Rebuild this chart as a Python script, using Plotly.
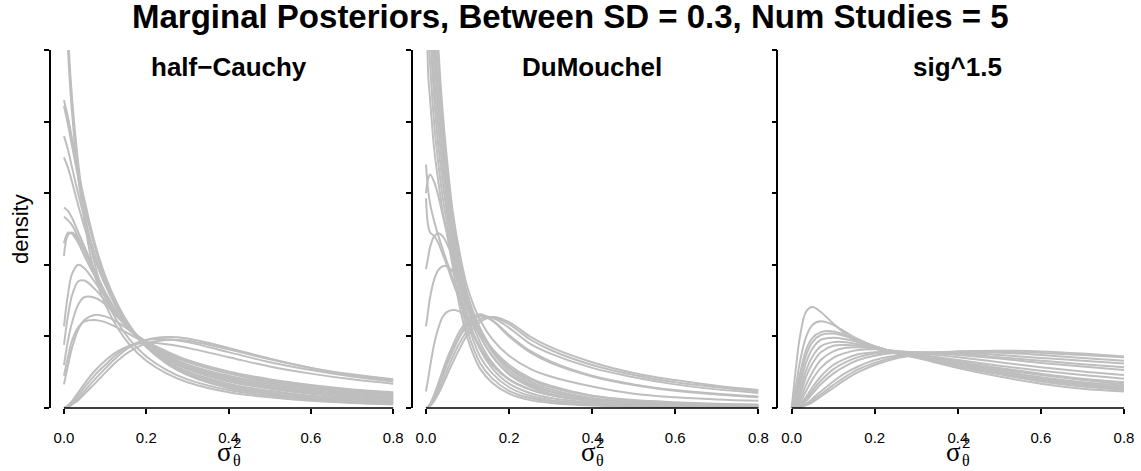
import plotly.graph_objects as go

W, H = 1141, 471
CURVE_COLOR = "#bebebe"
AXIS_COLOR = "#000000"
SANS = "Liberation Sans, Arial, Helvetica, sans-serif"

TITLE = "Marginal Posteriors, Between SD = 0.3, Num Studies = 5"
PANEL_TITLES = ["half\u2212Cauchy", "DuMouchel", "sig^1.5"]
X_TICKS = [0.0, 0.2, 0.4, 0.6, 0.8]
Y_TICKS = [0, 1, 2, 3, 4, 5]

# posterior density curves for the half-Cauchy prior
X_HALF_CAUCHY = [0, 0.01, 0.02, 0.035, 0.05, 0.075, 0.1, 0.13, 0.16, 0.2, 0.25, 0.3, 0.4, 0.5, 0.6, 0.7, 0.8]
HALF_CAUCHY = [
    [8.0, 5.0, 4.1, 3.2, 2.6, 1.85, 1.45, 1.12, 0.88, 0.66, 0.48, 0.36, 0.22, 0.15, 0.10, 0.07, 0.05],
    [7.0, 5.2, 4.3, 3.4, 2.75, 2.0, 1.55, 1.2, 0.95, 0.72, 0.53, 0.40, 0.25, 0.17, 0.12, 0.09, 0.07],
    [4.3, 4.05, 3.75, 3.3, 2.9, 2.3, 1.85, 1.45, 1.15, 0.86, 0.62, 0.46, 0.28, 0.19, 0.13, 0.10, 0.08],
    [4.22, 3.95, 3.65, 3.2, 2.8, 2.25, 1.8, 1.42, 1.13, 0.85, 0.62, 0.47, 0.30, 0.20, 0.14, 0.11, 0.08],
    [3.8, 3.6, 3.35, 2.98, 2.65, 2.15, 1.75, 1.4, 1.12, 0.86, 0.64, 0.49, 0.32, 0.22, 0.16, 0.12, 0.09],
    [3.5, 3.35, 3.15, 2.82, 2.52, 2.08, 1.72, 1.38, 1.12, 0.87, 0.66, 0.51, 0.34, 0.24, 0.17, 0.13, 0.10],
    [2.8, 2.75, 2.65, 2.45, 2.25, 1.92, 1.62, 1.33, 1.1, 0.88, 0.68, 0.54, 0.37, 0.27, 0.20, 0.15, 0.12],
    [2.67, 2.62, 2.55, 2.38, 2.2, 1.88, 1.6, 1.32, 1.1, 0.88, 0.69, 0.55, 0.38, 0.28, 0.21, 0.16, 0.13],
    [2.12, 2.42, 2.45, 2.35, 2.18, 1.88, 1.6, 1.32, 1.1, 0.89, 0.70, 0.56, 0.40, 0.30, 0.23, 0.18, 0.14],
    [2.3, 2.45, 2.43, 2.3, 2.12, 1.84, 1.57, 1.3, 1.09, 0.88, 0.70, 0.57, 0.41, 0.31, 0.24, 0.19, 0.15],
    [1.14, 1.6, 1.88, 2.0, 1.95, 1.76, 1.55, 1.3, 1.1, 0.90, 0.72, 0.59, 0.43, 0.33, 0.26, 0.21, 0.17],
    [0.88, 1.3, 1.58, 1.77, 1.78, 1.66, 1.5, 1.28, 1.1, 0.91, 0.74, 0.61, 0.45, 0.35, 0.28, 0.22, 0.18],
    [0.6, 0.95, 1.2, 1.45, 1.55, 1.54, 1.45, 1.27, 1.1, 0.92, 0.76, 0.64, 0.48, 0.37, 0.30, 0.24, 0.20],
    [0.45, 0.72, 0.95, 1.13, 1.21, 1.23, 1.2, 1.12, 1.03, 0.90, 0.77, 0.66, 0.50, 0.39, 0.31, 0.25, 0.21],
    [0.33, 0.6, 0.85, 1.1, 1.23, 1.3, 1.28, 1.2, 1.08, 0.93, 0.79, 0.67, 0.51, 0.40, 0.32, 0.26, 0.22],
    [0.0, 0.04, 0.1, 0.22, 0.34, 0.52, 0.66, 0.79, 0.87, 0.91, 0.89, 0.84, 0.71, 0.58, 0.48, 0.40, 0.34],
    [0.0, 0.02, 0.06, 0.14, 0.24, 0.40, 0.55, 0.72, 0.85, 0.95, 0.99, 0.97, 0.84, 0.69, 0.56, 0.47, 0.40],
    [0.0, 0.03, 0.08, 0.18, 0.29, 0.46, 0.6, 0.76, 0.87, 0.95, 0.96, 0.92, 0.78, 0.64, 0.53, 0.44, 0.37],
    [0.0, 0.015, 0.05, 0.11, 0.2, 0.34, 0.49, 0.66, 0.79, 0.90, 0.95, 0.94, 0.82, 0.68, 0.56, 0.46, 0.39],
]

# posterior density curves for the DuMouchel prior
X_DUMOUCHEL = [0, 0.005, 0.01, 0.02, 0.03, 0.04, 0.05, 0.065, 0.08, 0.1, 0.13, 0.16, 0.2, 0.25, 0.3, 0.4, 0.5, 0.6, 0.7, 0.8]
DUMOUCHEL = [
    [9.0, 4.7, 4.3, 3.6, 3.15, 2.75, 2.45, 1.95, 1.45, 0.97, 0.55, 0.35, 0.20, 0.11, 0.07, 0.035, 0.02, 0.015, 0.01, 0.01],
    [9.5, 5.4, 4.8, 3.95, 3.4, 2.95, 2.6, 2.08, 1.6, 1.08, 0.63, 0.41, 0.24, 0.14, 0.09, 0.045, 0.03, 0.02, 0.015, 0.012],
    [10.0, 6.0, 5.3, 4.3, 3.65, 3.15, 2.75, 2.2, 1.72, 1.2, 0.72, 0.48, 0.29, 0.17, 0.11, 0.06, 0.035, 0.025, 0.02, 0.015],
    [10.5, 6.6, 5.8, 4.6, 3.9, 3.35, 2.9, 2.32, 1.84, 1.3, 0.82, 0.55, 0.34, 0.21, 0.14, 0.075, 0.045, 0.03, 0.025, 0.02],
    [11.0, 7.2, 6.3, 4.95, 4.15, 3.55, 3.05, 2.43, 1.95, 1.4, 0.92, 0.63, 0.40, 0.26, 0.18, 0.10, 0.06, 0.04, 0.03, 0.025],
    [11.5, 7.8, 6.8, 5.3, 4.4, 3.75, 3.2, 2.53, 2.03, 1.5, 1.02, 0.72, 0.48, 0.32, 0.23, 0.13, 0.08, 0.055, 0.04, 0.03],
    [12.0, 8.3, 7.3, 5.7, 4.7, 3.95, 3.35, 2.62, 2.1, 1.58, 1.12, 0.82, 0.57, 0.40, 0.29, 0.17, 0.11, 0.08, 0.06, 0.05],
    [12.5, 8.8, 7.8, 6.1, 5.0, 4.15, 3.5, 2.72, 2.2, 1.68, 1.23, 0.96, 0.73, 0.55, 0.44, 0.30, 0.20, 0.15, 0.12, 0.10],
    [3.4, 3.05, 2.85, 2.6, 2.4, 2.22, 2.05, 1.8, 1.55, 1.22, 0.85, 0.60, 0.40, 0.26, 0.18, 0.10, 0.06, 0.04, 0.03, 0.02],
    [3.0, 3.2, 3.26, 3.15, 2.95, 2.7, 2.45, 2.1, 1.8, 1.42, 1.0, 0.72, 0.47, 0.30, 0.20, 0.10, 0.06, 0.04, 0.03, 0.02],
    [2.93, 2.55, 2.45, 2.4, 2.3, 2.15, 2.0, 1.75, 1.52, 1.2, 0.85, 0.60, 0.40, 0.26, 0.18, 0.10, 0.06, 0.04, 0.03, 0.02],
    [1.94, 2.1, 2.25, 2.4, 2.44, 2.4, 2.3, 2.1, 1.85, 1.5, 1.08, 0.78, 0.52, 0.34, 0.23, 0.12, 0.07, 0.05, 0.035, 0.025],
    [1.14, 1.35, 1.55, 1.8, 1.93, 1.98, 1.98, 1.9, 1.75, 1.48, 1.1, 0.82, 0.56, 0.37, 0.26, 0.14, 0.08, 0.055, 0.04, 0.03],
    [0.23, 0.4, 0.58, 0.9, 1.12, 1.27, 1.34, 1.37, 1.35, 1.25, 1.03, 0.82, 0.60, 0.42, 0.31, 0.17, 0.10, 0.07, 0.05, 0.04],
    [0.0, 0.01, 0.03, 0.1, 0.2, 0.32, 0.45, 0.64, 0.82, 1.02, 1.2, 1.27, 1.2, 1.0, 0.85, 0.64, 0.49, 0.39, 0.31, 0.25],
    [0.0, 0.01, 0.04, 0.13, 0.25, 0.38, 0.52, 0.72, 0.9, 1.08, 1.24, 1.27, 1.17, 0.96, 0.81, 0.60, 0.46, 0.36, 0.29, 0.23],
    [0.0, 0.015, 0.05, 0.16, 0.3, 0.45, 0.6, 0.8, 0.98, 1.15, 1.28, 1.26, 1.12, 0.90, 0.76, 0.56, 0.43, 0.33, 0.26, 0.21],
    [0.0, 0.02, 0.06, 0.19, 0.35, 0.52, 0.68, 0.88, 1.06, 1.22, 1.31, 1.22, 1.0, 0.78, 0.63, 0.44, 0.32, 0.24, 0.19, 0.15],
    [0.0, 0.015, 0.05, 0.17, 0.32, 0.48, 0.63, 0.83, 1.0, 1.18, 1.28, 1.22, 1.02, 0.80, 0.65, 0.45, 0.33, 0.25, 0.20, 0.16],
]

# posterior density curves for the sig^1.5 prior
X_SIG15 = [0, 0.01, 0.02, 0.035, 0.05, 0.07, 0.1, 0.13, 0.16, 0.2, 0.25, 0.3, 0.4, 0.5, 0.6, 0.7, 0.8]
SIG15 = [
    [0.0, 0.55, 1.0, 1.35, 1.41, 1.34, 1.18, 1.03, 0.92, 0.83, 0.76, 0.70, 0.56, 0.44, 0.34, 0.27, 0.23],
    [0.0, 0.3, 0.65, 1.0, 1.16, 1.21, 1.16, 1.06, 0.96, 0.86, 0.77, 0.71, 0.58, 0.47, 0.37, 0.30, 0.25],
    [0.0, 0.2, 0.48, 0.82, 0.98, 1.06, 1.07, 1.02, 0.95, 0.86, 0.78, 0.72, 0.59, 0.48, 0.39, 0.32, 0.27],
    [0.0, 0.15, 0.4, 0.74, 0.92, 1.02, 1.04, 1.0, 0.94, 0.86, 0.78, 0.72, 0.60, 0.50, 0.41, 0.34, 0.29],
    [0.0, 0.11, 0.32, 0.64, 0.83, 0.95, 0.98, 0.96, 0.92, 0.86, 0.78, 0.73, 0.62, 0.52, 0.43, 0.36, 0.31],
    [0.0, 0.07, 0.24, 0.53, 0.72, 0.86, 0.92, 0.92, 0.89, 0.84, 0.78, 0.73, 0.63, 0.54, 0.46, 0.39, 0.33],
    [0.0, 0.05, 0.18, 0.44, 0.62, 0.78, 0.87, 0.88, 0.87, 0.83, 0.78, 0.74, 0.65, 0.56, 0.48, 0.41, 0.36],
    [0.0, 0.03, 0.12, 0.33, 0.5, 0.67, 0.79, 0.84, 0.85, 0.83, 0.79, 0.75, 0.67, 0.59, 0.52, 0.46, 0.41],
    [0.0, 0.02, 0.08, 0.24, 0.4, 0.56, 0.7, 0.77, 0.81, 0.82, 0.80, 0.77, 0.71, 0.64, 0.57, 0.51, 0.46],
    [0.0, 0.01, 0.05, 0.16, 0.29, 0.44, 0.6, 0.69, 0.75, 0.78, 0.79, 0.78, 0.74, 0.69, 0.63, 0.58, 0.53],
    [0.0, 0.005, 0.03, 0.1, 0.2, 0.33, 0.48, 0.59, 0.67, 0.73, 0.77, 0.78, 0.77, 0.74, 0.70, 0.66, 0.62],
    [0.0, 0.003, 0.02, 0.06, 0.13, 0.23, 0.37, 0.49, 0.58, 0.67, 0.73, 0.76, 0.79, 0.79, 0.77, 0.74, 0.71],
    [0.0, 0.001, 0.01, 0.04, 0.08, 0.16, 0.28, 0.4, 0.5, 0.6, 0.69, 0.74, 0.79, 0.80, 0.79, 0.76, 0.72],
    [0.0, 0.002, 0.015, 0.05, 0.1, 0.19, 0.32, 0.44, 0.54, 0.63, 0.71, 0.75, 0.78, 0.77, 0.74, 0.70, 0.66],
    [0.0, 0.008, 0.04, 0.13, 0.24, 0.38, 0.54, 0.64, 0.71, 0.76, 0.78, 0.78, 0.76, 0.71, 0.66, 0.61, 0.57],
]

PANELS = [
    (X_HALF_CAUCHY, HALF_CAUCHY),
    (X_DUMOUCHEL, DUMOUCHEL),
    (X_SIG15, SIG15),
]

# pixel extents of each panel's plotting region (left, right)
PANEL_PX = [(50.8, 406.4), (412.7, 771.6), (778.4, 1137.3)]
PLOT_TOP_PX, PLOT_BOTTOM_PX = 50, 408
X_RANGE = [-0.032, 0.832]
Y_RANGE = [0, 5]

fig = go.Figure()
y_dom = [1 - PLOT_BOTTOM_PX / H, 1 - PLOT_TOP_PX / H]

for i, (xs, curves) in enumerate(PANELS):
    n = "" if i == 0 else str(i + 1)
    for ys in curves:
        fig.add_trace(go.Scatter(
            x=xs, y=ys, mode="lines",
            line=dict(color=CURVE_COLOR, width=2, shape="spline", smoothing=1.0),
            hoverinfo="skip", showlegend=False,
            xaxis="x" + n, yaxis="y" + n,
        ))
    left, right = PANEL_PX[i]
    fig.update_layout(**{
        "xaxis" + n: dict(
            domain=[left / W, right / W], range=X_RANGE, anchor="y" + n,
            tickvals=X_TICKS, ticktext=[f"{v:.1f}" for v in X_TICKS],
            ticks="outside", ticklen=5, tickwidth=1.5, tickcolor=AXIS_COLOR,
            ticklabelstandoff=11,
            showline=False, showgrid=False, zeroline=False,
            tickfont=dict(family=SANS, size=15, color="#000"),
        ),
        "yaxis" + n: dict(
            domain=y_dom, range=Y_RANGE, anchor="x" + n,
            tickvals=Y_TICKS, showticklabels=False,
            ticks="outside", ticklen=5, tickwidth=1.5, tickcolor=AXIS_COLOR,
            showline=True, linewidth=1.5, linecolor=AXIS_COLOR,
            showgrid=False, zeroline=False,
        ),
    })
    # x axis line spanning the first to the last tick
    fig.add_shape(type="line", xref="x" + n, yref="paper",
                  x0=X_TICKS[0], x1=X_TICKS[-1], y0=y_dom[0], y1=y_dom[0],
                  line=dict(color=AXIS_COLOR, width=1.5))
    # panel heading
    fig.add_annotation(text="<b>" + PANEL_TITLES[i] + "</b>", xref="x" + n, yref="paper",
                       x=0.4, y=1 - 67 / H, showarrow=False, yanchor="middle",
                       font=dict(family=SANS, size=26, color="#000"))
    # sigma_theta^2 axis label
    fig.add_annotation(text="\u03c3", xref="x" + n, yref="paper", x=0.4, y=1 - 452 / H,
                       xshift=-4, showarrow=False, yanchor="middle",
                       font=dict(family="Liberation Serif, serif", size=27, color="#000"))
    fig.add_annotation(text="2", xref="x" + n, yref="paper", x=0.4, y=1 - 442 / H,
                       xshift=8, showarrow=False, yanchor="middle",
                       font=dict(family=SANS, size=15, color="#000"))
    fig.add_annotation(text="\u03b8", xref="x" + n, yref="paper", x=0.4, y=1 - 460 / H,
                       xshift=8, showarrow=False, yanchor="middle",
                       font=dict(family="Liberation Serif, serif", size=16, color="#000"))

fig.add_annotation(text="density", xref="paper", yref="paper", x=20 / W, y=1 - 229 / H,
                   textangle=-90, showarrow=False, xanchor="center", yanchor="middle",
                   font=dict(family=SANS, size=22, color="#000"))

fig.add_annotation(text="<b>" + TITLE + "</b>", xref="paper", yref="paper",
                   x=570 / W, y=1 - 17 / H, showarrow=False, yanchor="middle",
                   font=dict(family=SANS, size=33, color="#000"))

fig.update_layout(
    width=W, height=H, margin=dict(l=0, r=0, t=0, b=0),
    paper_bgcolor="white", plot_bgcolor="white",
)

fig.write_html("out.html")
